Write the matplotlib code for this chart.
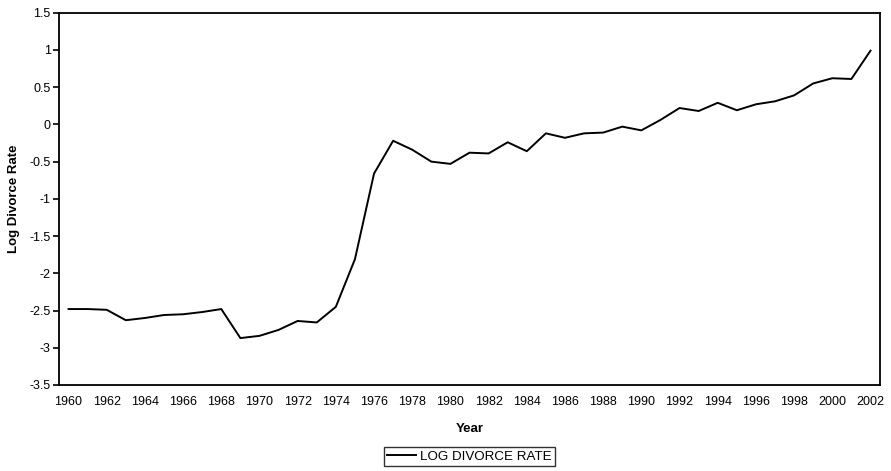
import matplotlib
matplotlib.use("Agg")
import matplotlib.pyplot as plt

plt.rcParams['font.family'] = ['Liberation Sans', 'DejaVu Sans']

years = list(range(1960, 2003))
log_rate = [-2.48, -2.48, -2.49, -2.63, -2.60, -2.56, -2.55, -2.52, -2.48, -2.87,
            -2.84, -2.76, -2.64, -2.66, -2.45, -1.81, -0.66, -0.22, -0.34, -0.50,
            -0.53, -0.38, -0.39, -0.24, -0.36, -0.12, -0.18, -0.12, -0.11, -0.03,
            -0.08, 0.06, 0.22, 0.18, 0.29, 0.19, 0.27, 0.31, 0.39, 0.55,
            0.62, 0.61, 0.99]
yticks = [1.5, 1, 0.5, 0, -0.5, -1, -1.5, -2, -2.5, -3, -3.5]

fig = plt.figure(figsize=(8.91, 4.71), dpi=100)
ax = fig.add_axes([0.0662, 0.1826, 0.9215, 0.7904])

ax.plot(years, log_rate, color='black', lw=1.4, label='LOG DIVORCE RATE')

ax.set_xlim(1959.5, 2002.5)
ax.set_ylim(-3.5, 1.5)
ax.set_xticks(years[::2])
ax.set_xticklabels([str(y) for y in years[::2]])
ax.set_yticks(yticks)
ax.set_yticklabels(['%g' % v for v in yticks])
ax.tick_params(axis='x', length=0, pad=8, labelsize=9)
ax.tick_params(axis='y', length=4, width=1.2, direction='out', pad=2, labelsize=9)
for s in ax.spines.values():
    s.set_linewidth(1.3)

ax.set_xlabel('Year', fontsize=9.5, fontweight='bold')
ax.set_ylabel('Log Divorce Rate', fontsize=9.5, fontweight='bold')
ax.xaxis.set_label_coords(0.5, -0.102)
ax.yaxis.set_label_coords(-0.047, 0.5)

leg = ax.legend(loc='center', bbox_to_anchor=(0.5, -0.193), fontsize=9.6,
                frameon=True, fancybox=False, handlelength=2.2, handletextpad=0.3,
                borderpad=0.25, borderaxespad=0)
leg.get_frame().set_edgecolor('black')
leg.get_frame().set_linewidth(1.0)

fig.savefig('out.png', dpi=100)
